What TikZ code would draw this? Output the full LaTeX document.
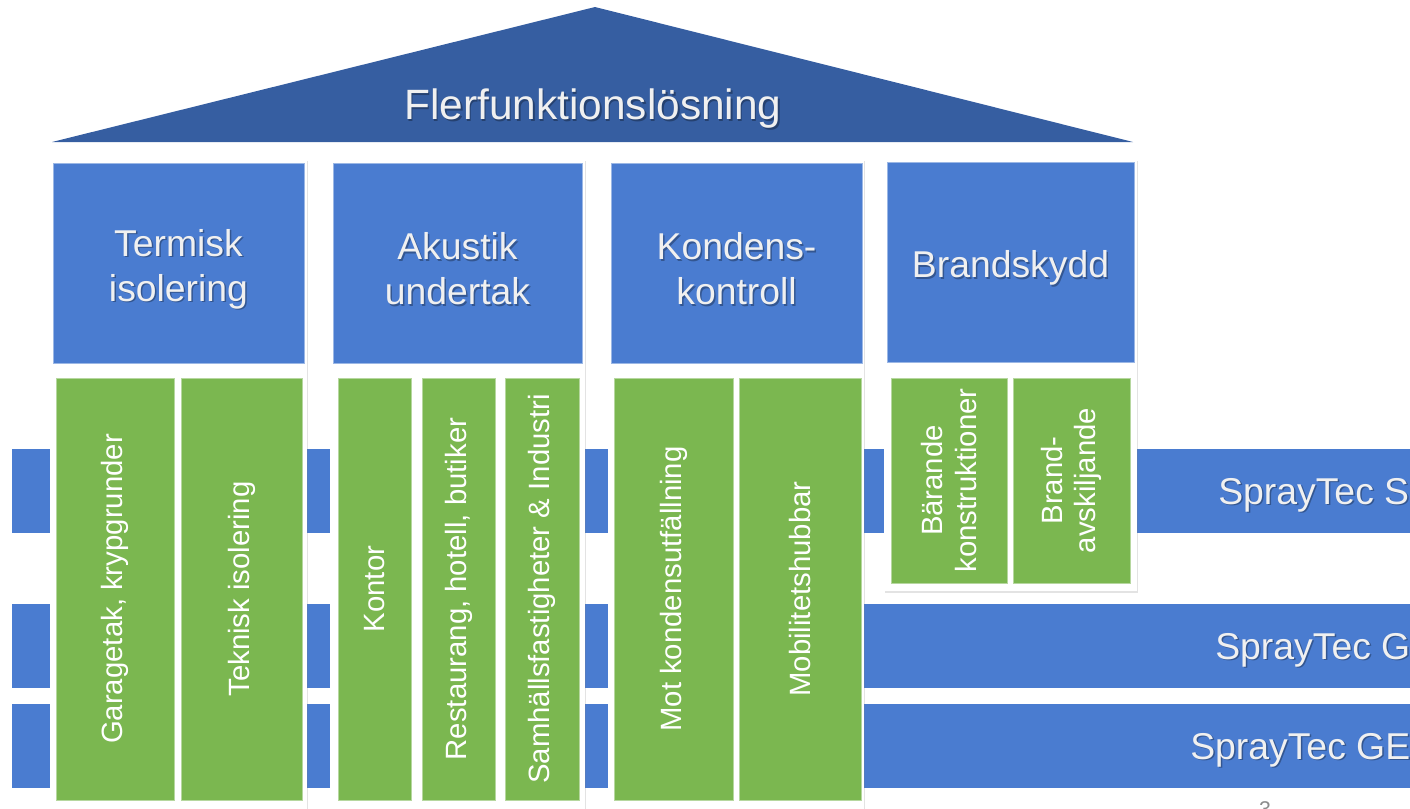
\documentclass[tikz,border=0pt]{standalone}
\usepackage{fontspec}
\setmainfont{Liberation Sans}
\usetikzlibrary{shadows}

\definecolor{roofblue}{RGB}{54,94,161}
\definecolor{pillarblue}{RGB}{74,124,208}
\definecolor{leafgreen}{RGB}{123,183,80}
\definecolor{textwhite}{RGB}{240,240,240}

\begin{document}
\begin{tikzpicture}[x=0.75pt,y=-0.75pt,
    panel/.style={fill=white,drop shadow={shadow xshift=1pt,shadow yshift=-1.5pt,opacity=.22}},
    header/.style={fill=pillarblue,draw=pillarblue!55!white,line width=.6pt,inner sep=0pt},
    headtext/.style={text=textwhite,align=center,inner sep=0pt,font=\fontsize{28}{33.7}\selectfont},
    textshadow/.style={text=black,opacity=.3},
    usecase/.style={fill=leafgreen,draw=leafgreen!55!white,line width=.6pt,text=white,align=center,
      inner sep=0pt,rotate=90,font=\fontsize{22}{25}\selectfont},
    band/.style={fill=pillarblue},
    bandlabel/.style={anchor=base west,inner sep=0pt,text=textwhite,font=\fontsize{28}{33.7}\selectfont}]
  \useasboundingbox (0,0) rectangle (1410,808);
  \clip (0,0) rectangle (1410,808);

  % product bands behind the pillars
  \fill[band] (12,449) rectangle (1430,533);
  \fill[band] (12,604) rectangle (1430,688);
  \fill[band] (12,704) rectangle (1430,788);
  \foreach \name/\bx/\by/\txt in {sprays/1218/504/{SprayTec S},sprayg/1215/659/{SprayTec G},spraygE/1190/759/{SprayTec GE}} {
    \node[bandlabel,textshadow] (\name-shadow) at (\bx+1.5,\by+1.5) {\txt};
    \node[bandlabel] (\name) at (\bx,\by) {\txt};
  }

  % pillars
  \foreach \xa/\xb/\yb in {50/307/830,330/585/830,608/864/830,884/1137/591} {
    \fill[panel] (\xa,159) rectangle (\xb,\yb);
  }
  \foreach \name/\cx/\cy/\w/\txt in {termisk/178.5/263/188.25/{Termisk\\isolering},
      akustik/457.5/263/186.75/{Akustik\\undertak},
      kondens/736.5/263/188.25/{Kondens-\\kontroll},
      brand/1010.5/262/185.25/{Brandskydd}} {
    \node[header,minimum width=\w pt,minimum height=150pt] (\name) at (\cx,\cy) {};
    \node[headtext,textshadow] (\name-shadow) at (\cx+1.5,\cy+7.5) {\txt};
    \node[headtext] (\name-text) at (\cx,\cy+6) {\txt};
  }
  \foreach \name/\cx/\cy/\len/\w/\txt in {garage/115/589/316.5/88.5/{Garagetak, krypgrunder},
      teknisk/241.5/589/316.5/90.75/{Teknisk isolering},
      kontor/374.5/589/316.5/54.75/{Kontor},
      restaurang/458.5/589/316.5/54.75/{Restaurang, hotell, butiker},
      samhall/542/589/316.5/55.5/{Samhällsfastigheter \& Industri},
      mot/673.5/589/316.5/89.25/{Mot kondensutfällning},
      mobilitet/800/589/316.5/91.5/{Mobilitetshubbar},
      barande/949/480.5/153.75/87/{Bärande\\konstruktioner},
      avskilj/1071.5/480.5/153.75/87.75/{Brand-\\avskiljande}} {
    \node[usecase,minimum width=\len pt,minimum height=\w pt] (\name) at (\cx,\cy) {\txt};
  }

  % roof
  \fill[roofblue] (52,142) -- (595,7) -- (1133,142) -- cycle;
  \node[headtext,textshadow,font=\fontsize{31.8}{36}\selectfont] (roof-shadow) at (594.5,110.5) {Flerfunktionslösning};
  \node[headtext,font=\fontsize{31.8}{36}\selectfont] (roof) at (593,109) {Flerfunktionslösning};

  \node[anchor=north,inner sep=0pt,text=black!45,font=\fontsize{16}{18}\selectfont] (pagenum) at (1265,801) {3};
\end{tikzpicture}
\end{document}
